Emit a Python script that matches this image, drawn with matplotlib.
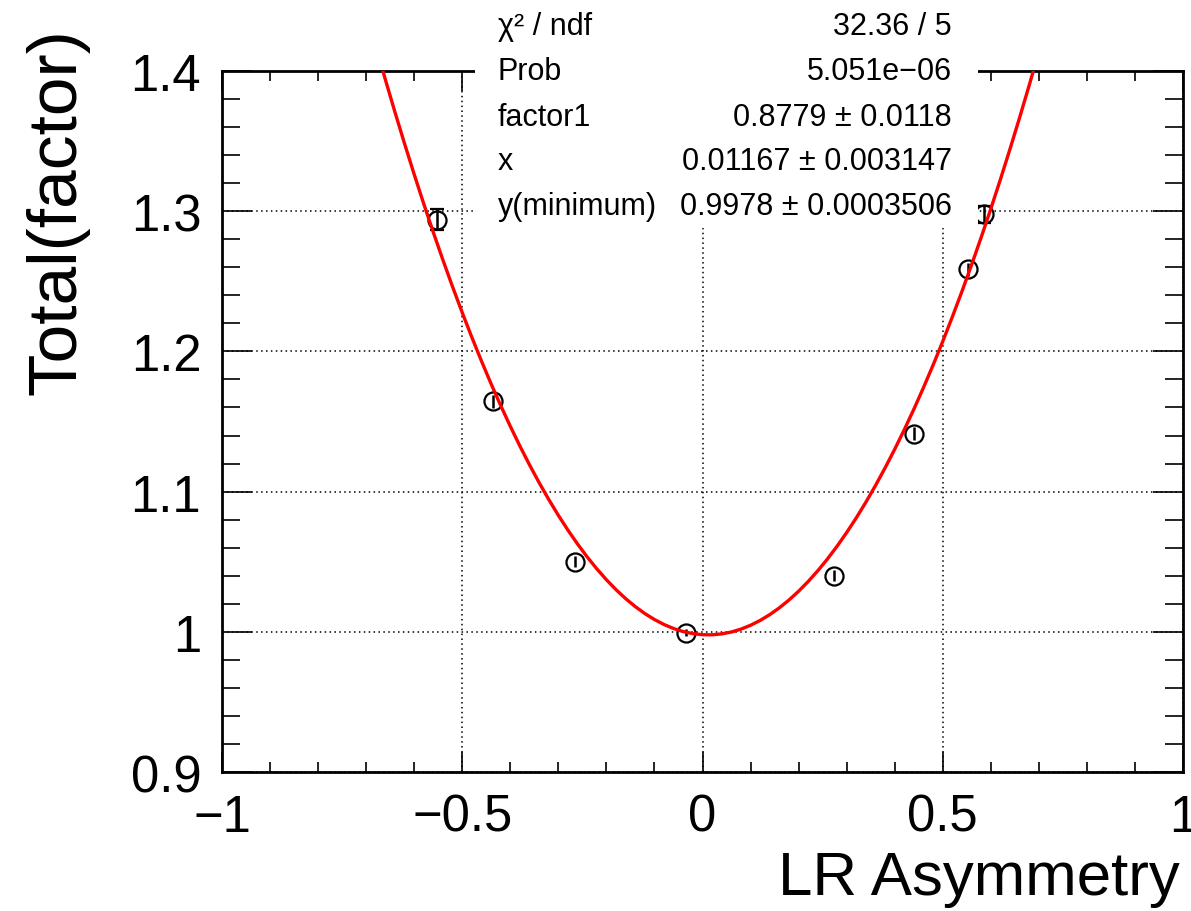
import numpy as np
import matplotlib
matplotlib.use("Agg")
import matplotlib.pyplot as plt
from matplotlib.patches import Rectangle
from matplotlib.ticker import MultipleLocator, FuncFormatter

plt.rcParams['font.family'] = ['Liberation Sans', 'DejaVu Sans']

# Measured points
lr_asym = [-0.553, -0.436, -0.2654, -0.0343, 0.2737, 0.4402, 0.5526, 0.586]
total_factor = [1.2938, 1.1643, 1.0500, 0.9993, 1.0400, 1.1414, 1.2586, 1.2979]
total_err = [0.0075, 0.0045, 0.0040, 0.0025, 0.0040, 0.0045, 0.0045, 0.0060]

# Fit results: y = y_min + factor1 * (x - x_min)^2
chi2, ndf, prob = 32.36, 5, 5.051e-06
factor1, factor1_err = 0.8779, 0.0118
x_min, x_min_err = 0.01167, 0.003147
y_min, y_min_err = 0.9978, 0.0003506

x_ticks = [-1, -0.5, 0, 0.5, 1]
y_ticks = [0.9, 1.0, 1.1, 1.2, 1.3, 1.4]

W, H = 1191, 912
fig = plt.figure(figsize=(W / 100, H / 100), dpi=100)
ax = fig.add_axes([222 / W, 1 - 773 / H, (1183 - 222) / W, (773 - 72) / H])

ax.set_xlim(-1, 1)
ax.set_ylim(0.9, 1.4)

# data points with vertical error bars
x = np.array(lr_asym)
y = np.array(total_factor)
e = np.array(total_err)
capped = e > 0.0057  # bars reaching past the marker edge get end caps
for mask, cap in ((capped, 5), (~capped, 0)):
    ax.errorbar(x[mask], y[mask], yerr=e[mask], fmt='o', mfc='none', mec='black',
                ms=13, mew=1.6, ecolor='black', elinewidth=1.8, capsize=cap,
                capthick=1.6, zorder=3)

# fitted parabola
xf = np.linspace(-1, 1, 101)
yf = y_min + factor1 * (xf - x_min) ** 2
ax.plot(xf, yf, color='#ff0000', lw=2.4, zorder=4)

# axes styling
ax.set_xticks(x_ticks)
ax.set_yticks(y_ticks)
ax.xaxis.set_minor_locator(MultipleLocator(0.1))
ax.yaxis.set_minor_locator(MultipleLocator(0.02))
fmt = FuncFormatter(lambda v, p: ('%g' % round(v, 6)).replace('-', '\u2212'))
ax.xaxis.set_major_formatter(fmt)
ax.yaxis.set_major_formatter(fmt)

ax.tick_params(axis='both', which='both', direction='in', top=True, right=True,
               color='black', width=1.2)
ax.tick_params(axis='x', which='major', length=14.5, labelsize=36.5, pad=15)
ax.tick_params(axis='x', which='minor', length=7.5)
ax.tick_params(axis='y', which='major', length=21.5, labelsize=36.5, pad=15)
ax.tick_params(axis='y', which='minor', length=13)
for sp in ax.spines.values():
    sp.set_linewidth(2.0)

ax.grid(True, which='major', color='black', linestyle=(0, (1, 2.2)), linewidth=1.1)
ax.set_axisbelow(True)

# axis titles
fig.text(1180 / W, 1 - 895 / H, 'LR Asymmetry', ha='right', va='baseline', fontsize=44.5)
fig.text(58 / W, 1 - 28 / H, 'Total(factor)', rotation=90, ha='center', va='top', fontsize=50)

# fit statistics box
fig.add_artist(Rectangle((475 / W, 1 - 229 / H), (978 - 475) / W, 229 / H,
                         transform=fig.transFigure, facecolor='white',
                         edgecolor='none', zorder=5))
rows = [
    ('\u03c7\u00b2 / ndf', '%.2f / %d' % (chi2, ndf)),
    ('Prob', ('%.3e' % prob).replace('-', '\u2212')),
    ('factor1', '%.4f \u00b1 %.4f' % (factor1, factor1_err)),
    ('x', '%.5f \u00b1 %.6f' % (x_min, x_min_err)),
    ('y(minimum)', '%.4f \u00b1 %.7f' % (y_min, y_min_err)),
]
row_y = [27, 72, 118, 162, 207]
for (lab, val), ry in zip(rows, row_y):
    fig.text(498 / W, 1 - ry / H, lab, ha='left', va='center', fontsize=22, zorder=6)
    fig.text(952 / W, 1 - ry / H, val, ha='right', va='center', fontsize=22, zorder=6)

fig.savefig('out.png', dpi=100)
